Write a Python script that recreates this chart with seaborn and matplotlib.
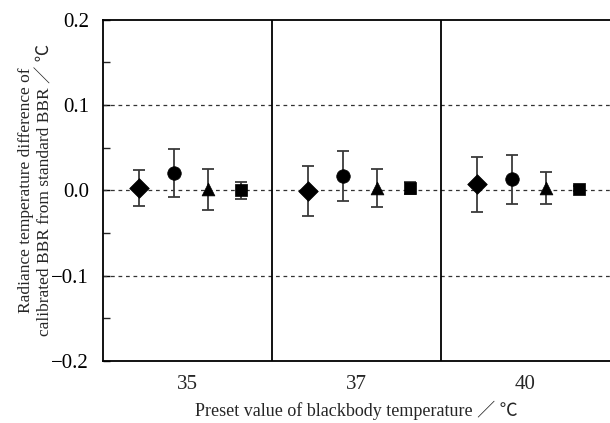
import numpy as np
import pandas as pd
import matplotlib
matplotlib.use("Agg")
import matplotlib.pyplot as plt
import seaborn as sns
from matplotlib.ticker import MultipleLocator

# ---- data ----
categories = ["35", "37", "40"]
series = ["A", "B", "C", "D"]
# mean differences (℃) per category for each series
diamond_vals = [0.003, -0.001, 0.007]
circle_vals = [0.020, 0.017, 0.013]
triangle_vals = [0.001, 0.003, 0.003]
square_vals = [0.000, 0.003, 0.002]
# error half-widths
diamond_err = [0.021, 0.029, 0.032]
circle_err = [0.028, 0.029, 0.029]
triangle_err = [0.024, 0.022, 0.019]
square_err = [0.010, 0.007, 0.003]

yticks = [-0.2, -0.1, 0.0, 0.1, 0.2]
ytick_labels = ["\u22120.2", "\u22120.1", "0.0", "0.1", "0.2"]
xlabel = "Preset value of blackbody temperature \uff0f \u2103"
ylabel = "Radiance temperature difference of\ncalibrated BBR from standard BBR \uff0f \u2103"

# ---- styling ----
sns.set_theme(style="white")
plt.rcParams["font.family"] = ["Liberation Serif", "Noto Sans CJK SC", "DejaVu Sans"]
plt.rcParams["axes.unicode_minus"] = True

offsets = [-0.285, -0.08, 0.12, 0.315]
markers = {"A": "D", "B": "o", "C": "^", "D": "s"}
msizes = {"A": 100, "B": 95, "C": 85, "D": 70}

vals = [diamond_vals, circle_vals, triangle_vals, square_vals]
errs = [diamond_err, circle_err, triangle_err, square_err]

rows = []
for si, s in enumerate(series):
    for ci, c in enumerate(categories):
        rows.append({"series": s, "cat": c, "x": ci + 0.5 + offsets[si],
                     "y": vals[si][ci], "err": errs[si][ci]})
df = pd.DataFrame(rows)

fig = plt.figure(figsize=(6.10, 4.23), dpi=100)
ax = fig.add_axes([0.169, 0.147, 0.831, 0.806])

# reference dashed lines
for yv in [-0.1, 0.0, 0.1]:
    ax.axhline(yv, color="#333333", lw=0.9, ls=(0, (3, 3)), zorder=1)
# separators
for xv in [1, 2]:
    ax.axvline(xv, color="black", lw=1.3, zorder=2)

ax.errorbar(df["x"], df["y"], yerr=df["err"], fmt="none", ecolor="#3a3a3a",
            elinewidth=1.3, capsize=4, capthick=1.3, zorder=3)

for s in series:
    sub = df[df["series"] == s]
    sns.scatterplot(data=sub, x="x", y="y", marker=markers[s], s=msizes[s],
                    color="black", edgecolor="black", linewidth=0.5,
                    ax=ax, zorder=4, legend=False)

ax.set_xlim(0, 3)
ax.set_ylim(-0.2, 0.2)
ax.set_xticks([0.5, 1.5, 2.5])
ax.set_xticklabels(categories)
ax.set_yticks(yticks)
ax.set_yticklabels(ytick_labels)
ax.yaxis.set_minor_locator(MultipleLocator(0.05))
ax.tick_params(axis="y", which="major", direction="in", length=5, width=1,
               left=True, pad=10, labelsize=15, colors="black")
ax.tick_params(axis="y", which="minor", direction="in", length=5, width=1, left=True)
ax.tick_params(axis="x", which="both", length=0, pad=10, labelsize=15)

for side in ["left", "bottom", "top"]:
    ax.spines[side].set_visible(True)
    ax.spines[side].set_color("black")
    ax.spines[side].set_linewidth(1.3)
ax.spines["right"].set_visible(False)

ax.set_xlabel(xlabel, fontsize=13)
ax.xaxis.set_label_coords(0.5, -0.118)
ax.set_ylabel(ylabel, fontsize=12.5, linespacing=1.25)
ax.yaxis.set_label_coords(-0.098, 0.5)

fig.savefig("out.png", dpi=100)
